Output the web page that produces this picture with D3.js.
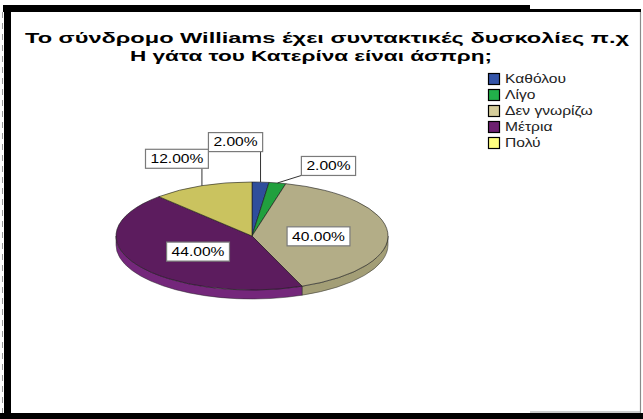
<!DOCTYPE html>
<html>
<head>
<meta charset="utf-8">
<script src="https://cdn.jsdelivr.net/npm/d3@7"></script>
<style>
  html, body { margin: 0; padding: 0; background: #fff; }
  svg { display: block; }
</style>
</head>
<body>
<svg id="chart" width="643" height="419"></svg>
<script>
// Survey answers and their shares (percent)
const categories = ["Καθόλου", "Λίγο", "Δεν γνωρίζω", "Μέτρια", "Πολύ"];
const values = [2, 2, 40, 44, 12];
const titleLines = ["Το σύνδρομο Williams έχει συντακτικές δυσκολίες π.χ", "Η γάτα του Κατερίνα είναι άσπρη;"];

const faceColors   = ["#2f4e9c", "#21a03e", "#b3ad87", "#5c1c5e", "#cac35f"];
const sideColors   = ["#26407f", "#1a8432", "#a39e76", "#74277b", "#b3ac4f"];
const legendColors = ["#3454a8", "#22b04a", "#d5cd9a", "#6c2070", "#ffff80"];

const svg = d3.select("#chart");
const fmt = d3.format(".2f");

// ---- frame -------------------------------------------------------------
svg.append("rect").attr("x", 3).attr("y", 5).attr("width", 527).attr("height", 7).attr("fill", "#000");
svg.append("rect").attr("x", 530).attr("y", 9).attr("width", 111).attr("height", 3).attr("fill", "#000");
svg.append("rect").attr("x", 4).attr("y", 5).attr("width", 7).attr("height", 414).attr("fill", "#000");
svg.append("rect").attr("x", 0).attr("y", 413).attr("width", 643).attr("height", 6).attr("fill", "#000");
svg.append("line").attr("x1", 640.5).attr("x2", 640.5).attr("y1", 12).attr("y2", 413)
  .attr("stroke", "#8a8a8a").attr("stroke-width", 1.2);
svg.append("line").attr("x1", 530).attr("x2", 641).attr("y1", 412).attr("y2", 412)
  .attr("stroke", "#9a9a9a").attr("stroke-width", 1);
svg.append("line").attr("x1", 2.5).attr("x2", 2.5).attr("y1", 12).attr("y2", 413)
  .attr("stroke", "#9a9a9a").attr("stroke-width", 1).attr("stroke-dasharray", "6,5");

// ---- title -------------------------------------------------------------
const title = svg.append("g").attr("font-family", "Liberation Sans, Arial, sans-serif")
  .attr("fill", "#000").attr("text-anchor", "middle").attr("font-weight", "bold");
title.append("text").attr("x", 327).attr("y", 43).attr("font-size", 15)
  .attr("textLength", 604).attr("lengthAdjust", "spacingAndGlyphs").text(titleLines[0]);
title.append("text").attr("x", 311).attr("y", 61).attr("font-size", 15)
  .attr("textLength", 362).attr("lengthAdjust", "spacingAndGlyphs").text(titleLines[1]);

// ---- 3D pie ------------------------------------------------------------
const cx = 252, cy = 236, rx = 136, ry = 54, depth = 9;
const arcs = d3.pie().sort(null).value(d => d).startAngle(0).endAngle(2 * Math.PI)(values);

const pt = (a, dy = 0) => [cx + rx * Math.sin(a), cy - ry * Math.cos(a) + dy];

function topPath(a0, a1) {
  const p0 = pt(a0), p1 = pt(a1);
  const large = (a1 - a0) > Math.PI ? 1 : 0;
  return `M${cx},${cy}L${p0[0]},${p0[1]}A${rx},${ry} 0 ${large} 1 ${p1[0]},${p1[1]}Z`;
}
function sidePath(a0, a1) {
  const s = Math.max(a0, Math.PI / 2), e = Math.min(a1, 3 * Math.PI / 2);
  if (e <= s) return null;
  const p0 = pt(s), p1 = pt(e), q1 = pt(e, depth), q0 = pt(s, depth);
  return `M${p0[0]},${p0[1]}A${rx},${ry} 0 0 1 ${p1[0]},${p1[1]}` +
         `L${q1[0]},${q1[1]}A${rx},${ry} 0 0 0 ${q0[0]},${q0[1]}Z`;
}

const pie = svg.append("g");
pie.selectAll("path.side").data(arcs).enter()
  .filter(d => sidePath(d.startAngle, d.endAngle) !== null)
  .append("path").attr("class", "side")
  .attr("d", d => sidePath(d.startAngle, d.endAngle))
  .attr("fill", d => sideColors[d.index])
  .attr("stroke", "#2a2a2a").attr("stroke-width", 0.5);
pie.selectAll("path.top").data(arcs).enter()
  .append("path").attr("class", "top")
  .attr("d", d => topPath(d.startAngle, d.endAngle))
  .attr("fill", d => faceColors[d.index])
  .attr("stroke", "#1a1a1a").attr("stroke-width", 0.6);

// ---- data labels -------------------------------------------------------
// inside labels sit part-way along the mid angle, outside ones are offset from the rim
const labelPlacement = [
  { outside: true, dx: -25, dy: -40 },
  { outside: true, dx: 51, dy: -17 },
  { outside: false, k: 0.49 },
  { outside: false, k: 0.47 },
  { outside: true, dx: -25, dy: -27 }
];
const stretch = 1.3, padX = 5, boxH = 19;

const labels = svg.append("g").attr("font-family", "Liberation Sans, Arial, sans-serif").attr("font-size", 12);
arcs.forEach(d => {
  const mid = (d.startAngle + d.endAngle) / 2;
  const place = labelPlacement[d.index];
  const rim = pt(mid);
  let c;
  if (place.outside) c = [rim[0] + place.dx, rim[1] + place.dy];
  else c = [cx + rx * place.k * Math.sin(mid), cy - ry * place.k * Math.cos(mid) + 2];

  const g = labels.append("g");
  const t = g.append("text").attr("text-anchor", "middle").attr("fill", "#000")
    .attr("transform", `translate(${c[0]},${c[1] + 4.3}) scale(${stretch},1)`)
    .text(fmt(values[d.index]) + "%");
  const w = t.node().getComputedTextLength() * stretch + 2 * padX;
  const bx = c[0] - w / 2, by = c[1] - boxH / 2;
  g.insert("rect", "text").attr("x", bx).attr("y", by).attr("width", w).attr("height", boxH)
    .attr("fill", "#fff").attr("stroke", "#7a7a7a").attr("stroke-width", 1.2);

  if (place.outside) {
    const lx = Math.max(bx, Math.min(bx + w, rim[0]));
    labels.insert("line", "g").attr("x1", lx).attr("y1", by + boxH).attr("x2", rim[0]).attr("y2", rim[1])
      .attr("stroke", "#333").attr("stroke-width", 1);
  }
});

// ---- legend ------------------------------------------------------------
const legend = svg.append("g").attr("font-family", "Liberation Sans, Arial, sans-serif").attr("font-size", 12);
const rowY = d3.scalePoint().domain(categories).range([79, 143]);
categories.forEach((name, i) => {
  const y = rowY(name);
  legend.append("rect").attr("x", 488.5).attr("y", y - 5.5).attr("width", 11).attr("height", 11)
    .attr("fill", legendColors[i]).attr("stroke", "#000").attr("stroke-width", 1.2);
  legend.append("text").attr("fill", "#222")
    .attr("transform", `translate(505,${y + 4.3}) scale(${stretch},1)`)
    .text(name);
});
</script>
</body>
</html>
